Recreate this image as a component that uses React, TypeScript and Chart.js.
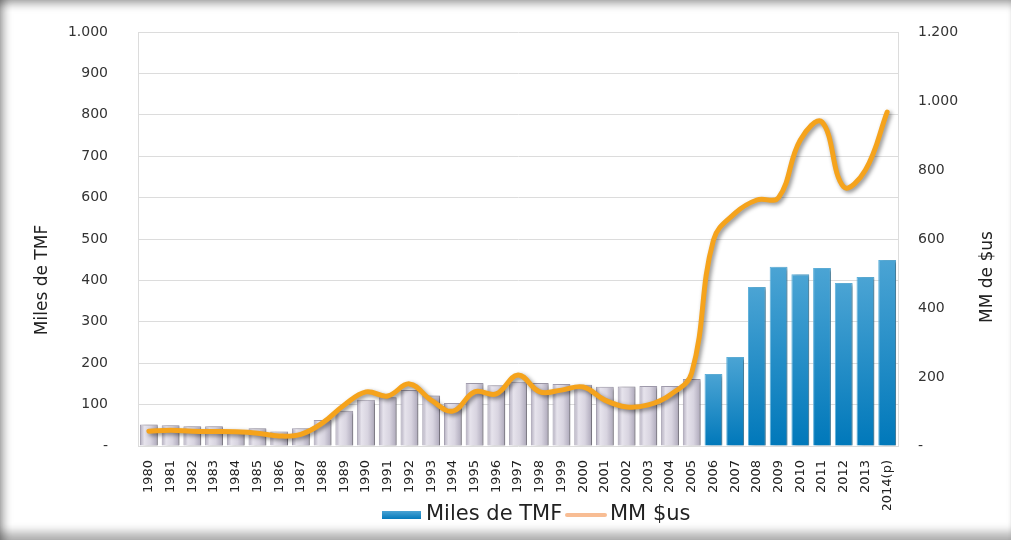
import React, { useEffect, useRef } from "react";
import { Chart, registerables } from "chart.js";

Chart.register(...registerables);

const years = [
  "1980", "1981", "1982", "1983", "1984", "1985", "1986", "1987", "1988", "1989",
  "1990", "1991", "1992", "1993", "1994", "1995", "1996", "1997", "1998", "1999",
  "2000", "2001", "2002", "2003", "2004", "2005", "2006", "2007", "2008", "2009",
  "2010", "2011", "2012", "2013", "2014(p)",
];

// Miles de TMF (left axis)
const tonnage = [
  52, 50, 48, 48, 38, 43, 35, 43, 63, 85,
  112, 118, 135, 122, 104, 152, 147, 155, 152, 150,
  148, 143, 144, 145, 145, 162, 174, 215, 384, 433,
  415, 430, 394, 408, 449,
];

// MM $us (right axis)
const valueUsd = [
  43, 46, 43, 42, 41, 37, 29, 34, 67, 119,
  157, 145, 180, 133, 101, 157, 151, 206, 157, 162,
  171, 133, 113, 119, 148, 212, 597, 675, 713, 720,
  887, 939, 751, 800, 968,
];

const blueFromYear = "2006";

const leftTicksMax = 1000;
const leftTicksStep = 100;
const rightTicksMax = 1200;
const rightTicksStep = 200;

const seriesNames = ["Miles de TMF", "MM $us"];
const axisTitles = ["Miles de TMF", "MM de $us"];

const FONT = "'DejaVu Sans', sans-serif";

function fmt(v: number): string {
  if (v === 0) return "-";
  return String(v).replace(/\B(?=(\d{3})+(?!\d))/g, ".");
}

const shadowPlugin = {
  id: "shadows",
  beforeDatasetDraw(chart: any, args: any) {
    const ctx = chart.ctx;
    ctx.save();
    if (args.meta.type === "line") {
      ctx.shadowColor = "rgba(0,0,0,0.45)";
      ctx.shadowBlur = 4;
      ctx.shadowOffsetX = 2;
      ctx.shadowOffsetY = 2;
    } else {
      ctx.shadowColor = "rgba(0,0,0,0.35)";
      ctx.shadowBlur = 3;
      ctx.shadowOffsetX = 3;
      ctx.shadowOffsetY = 1;
    }
  },
  afterDatasetDraw(chart: any) {
    chart.ctx.restore();
  },
};

const titlesPlugin = {
  id: "axisTitlesAndLegend",
  afterDraw(chart: any) {
    const ctx = chart.ctx;
    const draw = (text: string, x: number, y: number) => {
      ctx.save();
      ctx.fillStyle = "#222";
      ctx.font = `17px ${FONT}`;
      ctx.textAlign = "center";
      ctx.textBaseline = "middle";
      ctx.translate(x, y);
      ctx.rotate(-Math.PI / 2);
      ctx.fillText(text, 0, 0);
      ctx.restore();
    };
    draw(axisTitles[0], 43, 280);
    draw(axisTitles[1], 988, 277);

    // legend
    const cy = 515;
    ctx.save();
    const gr = ctx.createLinearGradient(0, cy - 4, 0, cy + 4);
    gr.addColorStop(0, "#4aa3d4");
    gr.addColorStop(1, "#0479bb");
    ctx.fillStyle = gr;
    ctx.fillRect(382, cy - 4, 39, 8);
    ctx.fillStyle = "#222";
    ctx.font = `21px ${FONT}`;
    ctx.textAlign = "left";
    ctx.textBaseline = "middle";
    ctx.fillText(seriesNames[0], 426, cy);
    ctx.strokeStyle = "#f8bd94";
    ctx.lineWidth = 4;
    ctx.lineCap = "round";
    ctx.beginPath();
    ctx.moveTo(567, cy);
    ctx.lineTo(605, cy);
    ctx.stroke();
    ctx.fillText(seriesNames[1], 610, cy);
    ctx.restore();
  },
};

export default function App() {
  const ref = useRef<HTMLCanvasElement | null>(null);

  useEffect(() => {
    if (!ref.current) return;
    const blueStart = years.indexOf(blueFromYear);

    const barBg = (c: any) => {
      const chart = c.chart;
      const area = chart.chartArea;
      const i = c.dataIndex;
      const isBlue = i >= blueStart;
      if (!area || !chart.scales.y || !chart.scales.x) return isBlue ? "#2a90c8" : "#d4d0dc";
      const ctx = chart.ctx;
      if (isBlue) {
        const top = chart.scales.y.getPixelForValue(tonnage[i]);
        const g = ctx.createLinearGradient(0, top, 0, area.bottom);
        g.addColorStop(0, "#4ba4d4");
        g.addColorStop(1, "#0078ba");
        return g;
      }
      const xs = chart.scales.x;
      const cx = xs.getPixelForValue(i);
      const w = (xs.width / years.length) * 0.82;
      const g = ctx.createLinearGradient(cx - w / 2, 0, cx + w / 2, 0);
      g.addColorStop(0, "#b1acbd");
      g.addColorStop(0.25, "#e6e3ec");
      g.addColorStop(0.6, "#d8d4e0");
      g.addColorStop(1, "#aca7b9");
      return g;
    };

    const noVPad = (s: any, width: number) => {
      s.width = width;
      s.paddingTop = 0;
      s.paddingBottom = 0;
    };

    const chart = new Chart(ref.current, {
      type: "bar",
      data: {
        labels: years,
        datasets: [
          {
            type: "bar",
            label: seriesNames[0],
            data: tonnage,
            yAxisID: "y",
            order: 2,
            backgroundColor: barBg,
            borderColor: (c: any) => (c.dataIndex >= blueStart ? "#5eb0da" : "#a29dae"),
            borderWidth: 1,
            categoryPercentage: 0.82,
            barPercentage: 1,
          } as any,
          {
            type: "line",
            label: seriesNames[1],
            data: valueUsd,
            yAxisID: "y1",
            order: 1,
            borderColor: "#f5a31c",
            borderWidth: 5,
            tension: 0.4,
            pointRadius: 0,
            fill: false,
            borderCapStyle: "round",
          } as any,
        ],
      },
      options: {
        responsive: false,
        animation: false,
        devicePixelRatio: 1,
        layout: { padding: { left: 0, right: 0, top: 32, bottom: 30 } },
        plugins: {
          tooltip: { enabled: false },
          legend: { display: false },
        },
        scales: {
          x: {
            offset: true,
            grid: { display: false },
            border: { display: false },
            ticks: {
              autoSkip: false,
              minRotation: 90,
              maxRotation: 90,
              padding: 6,
              color: "#222",
              font: { family: FONT, size: 13 },
            },
            afterFit: (s: any) => {
              s.height = 64;
              s.paddingLeft = 0;
              s.paddingRight = 0;
            },
          },
          y: {
            position: "left",
            min: 0,
            max: leftTicksMax,
            grid: { color: "#dcdcdc", lineWidth: 1, drawTicks: false },
            border: { display: true, color: "#dcdcdc" },
            ticks: {
              stepSize: leftTicksStep,
              padding: 30,
              color: "#333",
              font: { family: FONT, size: 14 },
              callback: (v: any) => fmt(Number(v)),
            },
            afterFit: (s: any) => noVPad(s, 138),
          },
          y1: {
            position: "right",
            min: 0,
            max: rightTicksMax,
            grid: { display: false, drawTicks: false },
            border: { display: true, color: "#dcdcdc" },
            ticks: {
              stepSize: rightTicksStep,
              padding: 20,
              color: "#333",
              font: { family: FONT, size: 14 },
              callback: (v: any) => fmt(Number(v)),
            },
            afterFit: (s: any) => noVPad(s, 113),
          },
        },
      },
      plugins: [shadowPlugin, titlesPlugin],
    });
    return () => chart.destroy();
  }, []);

  return (
    <div
      style={{
        position: "absolute",
        left: 0,
        top: 0,
        width: 1011,
        height: 540,
        background: "#fff",
        overflow: "hidden",
      }}
    >
      <canvas ref={ref} width={1011} height={540} style={{ position: "absolute", left: 0, top: 0 }} />
      <div
        style={{
          position: "absolute",
          left: 0,
          top: 0,
          width: 1011,
          height: 540,
          pointerEvents: "none",
          boxShadow:
            "inset 0 9px 8px -5px rgba(0,0,0,0.35), inset 9px 0 8px -5px rgba(0,0,0,0.35), inset 0 -14px 10px -6px rgba(0,0,0,0.3)",
        }}
      />
    </div>
  );
}
